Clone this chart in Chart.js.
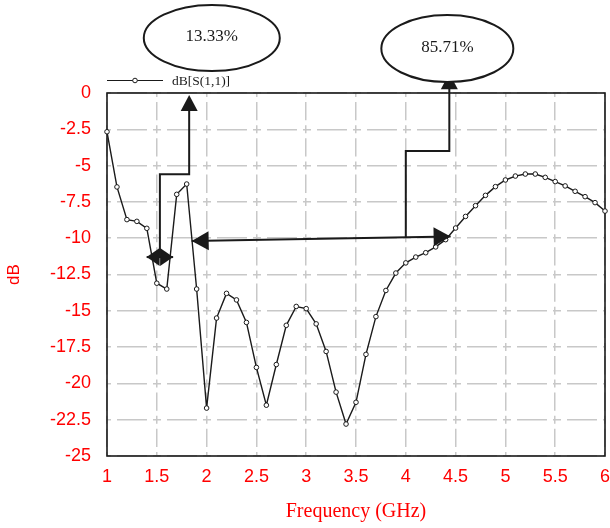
<!DOCTYPE html>
<html>
<head>
<meta charset="utf-8">
<script src="https://cdn.jsdelivr.net/npm/chart.js@4.4.1/dist/chart.umd.min.js"></script>
<style>
  html, body { margin: 0; padding: 0; background: #fff; }
  #wrap { width: 610px; height: 528px; position: relative; }
</style>
</head>
<body>
<div id="wrap"><canvas id="chart"></canvas></div>
<script>
// frequency sweep, GHz
var freqs = [1.0, 1.1, 1.2, 1.3, 1.4, 1.5, 1.6, 1.7, 1.8, 1.9,
             2.0, 2.1, 2.2, 2.3, 2.4, 2.5, 2.6, 2.7, 2.8, 2.9,
             3.0, 3.1, 3.2, 3.3, 3.4, 3.5, 3.6, 3.7, 3.8, 3.9,
             4.0, 4.1, 4.2, 4.3, 4.4, 4.5, 4.6, 4.7, 4.8, 4.9,
             5.0, 5.1, 5.2, 5.3, 5.4, 5.5, 5.6, 5.7, 5.8, 5.9, 6.0];
// dB[S(1,1)]
var s11 = [-2.67, -6.47, -8.72, -8.84, -9.32, -13.1, -13.5, -6.98, -6.27, -13.5,
           -21.7, -15.5, -13.8, -14.25, -15.8, -18.9, -21.5, -18.7, -16.0, -14.7,
           -14.85, -15.9, -17.8, -20.6, -22.8, -21.3, -18.0, -15.4, -13.6, -12.4,
           -11.7, -11.3, -11.0, -10.6, -10.1, -9.3, -8.5, -7.76, -7.05, -6.45,
           -5.99, -5.72, -5.58, -5.58, -5.81, -6.1, -6.4, -6.77, -7.14, -7.55, -8.13];
var seriesLabel = "dB[S(1,1)]";
var xTitle = "Frequency (GHz)";
var yTitle = "dB";
var bandLabels = ["13.33%", "85.71%"];

var RED = "#ff0000";
var INK = "#1a1a1a";
var GRID = "#c8c8c8";
var tickFont = { family: "'Liberation Sans Narrow', 'Liberation Sans', sans-serif", size: 18 };

// annotation anchors, in data units (GHz, dB)
var notes = [
  {
    text: bandLabels[0],
    bubble: [2.052, 3.79], rx: 68, ry: 33,
    span: [[1.398, -11.3], [1.664, -11.3]], head: 13, halfW: 9,
    path: [[1.531, -11.3], [1.531, -5.6], [1.825, -5.6], [1.825, -0.14]]
  },
  {
    text: bandLabels[1],
    bubble: [4.417, 3.06], rx: 66, ry: 33.5,
    span: [[1.85, -10.19], [4.45, -9.88]], head: 17, halfW: 9.5,
    path: [[4.0, -9.95], [4.0, -3.99], [4.437, -3.99], [4.437, 1.36]]
  }
];

function arrowHead(ctx, tip, from, len, halfW) {
  var dx = tip[0] - from[0], dy = tip[1] - from[1];
  var d = Math.sqrt(dx * dx + dy * dy) || 1;
  var ux = dx / d, uy = dy / d;
  var bx = tip[0] - ux * len, by = tip[1] - uy * len;
  ctx.beginPath();
  ctx.moveTo(tip[0], tip[1]);
  ctx.lineTo(bx - uy * halfW, by + ux * halfW);
  ctx.lineTo(bx + uy * halfW, by - ux * halfW);
  ctx.closePath();
  ctx.fill();
}

var decorPlugin = {
  id: "decor",
  beforeDatasetsDraw: function (chart) {
    // full frame round the plot
    var a = chart.chartArea, ctx = chart.ctx;
    ctx.save();
    ctx.strokeStyle = INK;
    ctx.lineWidth = 1.6;
    ctx.strokeRect(a.left, a.top, a.right - a.left, a.bottom - a.top);
    ctx.restore();
  },
  afterDatasetsDraw: function (chart) {
    var ctx = chart.ctx, a = chart.chartArea;
    var xs = chart.scales.x, ys = chart.scales.y;
    function px(p) { return [xs.getPixelForValue(p[0]), ys.getPixelForValue(p[1])]; }

    ctx.save();
    // legend
    var ly = a.top - 12.5;
    ctx.strokeStyle = INK;
    ctx.lineWidth = 1;
    ctx.beginPath();
    ctx.moveTo(a.left, ly);
    ctx.lineTo(a.left + 56, ly);
    ctx.stroke();
    ctx.beginPath();
    ctx.arc(a.left + 28, ly, 2.3, 0, Math.PI * 2);
    ctx.fillStyle = "#fff";
    ctx.fill();
    ctx.stroke();
    ctx.fillStyle = INK;
    ctx.font = "13.5px 'Liberation Serif', serif";
    ctx.textBaseline = "middle";
    ctx.textAlign = "left";
    ctx.fillText(chart.data.datasets[0].label, a.left + 65, ly + 1);

    // bandwidth markers
    notes.forEach(function (n) {
      ctx.strokeStyle = INK;
      ctx.fillStyle = INK;
      ctx.lineWidth = 2;

      var s0 = px(n.span[0]), s1 = px(n.span[1]);
      ctx.beginPath();
      ctx.moveTo(s0[0], s0[1]);
      ctx.lineTo(s1[0], s1[1]);
      ctx.stroke();
      arrowHead(ctx, s0, s1, n.head, n.halfW);
      arrowHead(ctx, s1, s0, n.head, n.halfW);

      var pts = n.path.map(px);
      var last = pts[pts.length - 1], prev = pts[pts.length - 2];
      ctx.beginPath();
      ctx.moveTo(pts[0][0], pts[0][1]);
      for (var i = 1; i < pts.length - 1; i++) ctx.lineTo(pts[i][0], pts[i][1]);
      ctx.lineTo(last[0], last[1] + 14);
      ctx.stroke();
      arrowHead(ctx, last, prev, 16, 8.5);

      var c = px(n.bubble);
      ctx.beginPath();
      ctx.ellipse(c[0], c[1], n.rx, n.ry, 0, 0, Math.PI * 2);
      ctx.fillStyle = "#fff";
      ctx.fill();
      ctx.lineWidth = 2;
      ctx.stroke();
      ctx.fillStyle = INK;
      ctx.font = "17px 'Liberation Serif', serif";
      ctx.textAlign = "center";
      ctx.textBaseline = "middle";
      ctx.fillText(n.text, c[0], c[1] - 1);
    });
    ctx.restore();
  }
};

var points = freqs.map(function (f, i) { return { x: f, y: s11[i] }; });

new Chart(document.getElementById("chart"), {
  type: "line",
  data: {
    datasets: [{
      label: seriesLabel,
      data: points,
      borderColor: INK,
      borderWidth: 1.4,
      pointRadius: 2.3,
      pointBorderWidth: 1,
      pointBackgroundColor: "#fff",
      pointBorderColor: INK,
      tension: 0,
      clip: false
    }]
  },
  options: {
    responsive: true,
    maintainAspectRatio: false,
    animation: false,
    layout: { padding: { top: 93, right: 4, left: 0, bottom: 0 } },
    plugins: {
      legend: { display: false },
      tooltip: { enabled: false }
    },
    scales: {
      x: {
        type: "linear",
        min: 1, max: 6,
        afterFit: function (s) { s.height = 72; s.paddingLeft = 0; s.paddingRight = 0; },
        border: { display: false, dash: [8, 5, 18.3, 5], dashOffset: 4 },
        grid: { color: GRID, lineWidth: 1.5, drawTicks: false },
        ticks: {
          stepSize: 0.5, autoSkip: false, maxRotation: 0, padding: 10,
          color: RED, font: tickFont,
          callback: function (v) { return String(Math.round(v * 10) / 10); }
        },
        title: {
          display: true, text: xTitle, color: RED,
          font: { family: "'Liberation Serif', serif", size: 20 },
          padding: { top: 0, bottom: 4 }
        }
      },
      y: {
        min: -25, max: 0,
        afterFit: function (s) { s.width = 107; s.paddingTop = 0; s.paddingBottom = 0; },
        border: { display: false, dash: [8, 6, 30, 6], dashOffset: 4 },
        grid: { color: GRID, lineWidth: 1.5, drawTicks: false },
        ticks: {
          stepSize: 2.5, autoSkip: false, padding: 16,
          color: RED, font: tickFont,
          callback: function (v) { return String(Math.round(v * 10) / 10); }
        },
        title: {
          display: true, text: yTitle, color: RED,
          font: { family: "'Liberation Sans Narrow', 'Liberation Sans', sans-serif", size: 17 },
          padding: { top: 4, bottom: 0 }
        }
      }
    }
  },
  plugins: [decorPlugin]
});
</script>
</body>
</html>
